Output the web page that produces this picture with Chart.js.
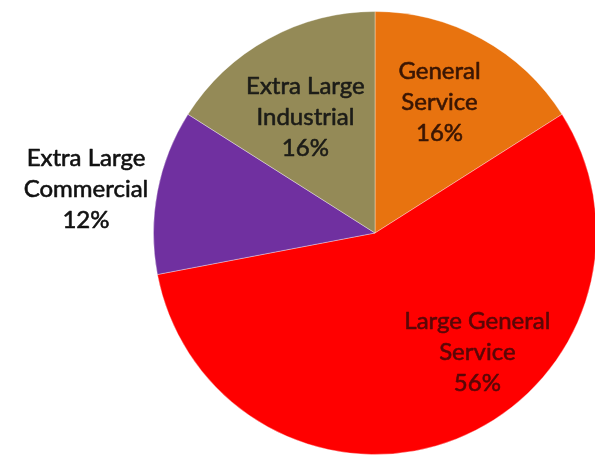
<!DOCTYPE html>
<html>
<head>
<meta charset="utf-8">
<script src="https://cdn.jsdelivr.net/npm/chart.js@4.4.0/dist/chart.umd.min.js"></script>
<style>
  html, body { margin: 0; padding: 0; background: #ffffff; overflow: hidden; }
  body { width: 595px; height: 455px; position: relative; }
  #pie { position: absolute; left: 0; top: 0; }
</style>
</head>
<body>
<canvas id="pie" width="620" height="470"></canvas>
<script>
// Customer classes, clockwise from 12 o'clock
const categories = ['General Service', 'Large General Service', 'Extra Large Commercial', 'Extra Large Industrial'];
const shares = [16, 56, 12, 16];
const labelLines = [
  ['General', 'Service'],
  ['Large General', 'Service'],
  ['Extra Large', 'Commercial'],
  ['Extra Large', 'Industrial']
];

const sliceColors = ['#E8730F', '#FF0000', '#7030A0', '#948A57'];
const textColors = ['#3a1604', '#5a0707', '#111111', '#1c1c18'];
// where each label sits: angle shift (deg) from the slice middle, distance as a share of the radius
const labelPlacement = [
  { shift: -2.6, dist: 0.66 },
  { shift: -19, dist: 0.71 },
  { shift: -2.1, dist: 1.32 },
  { shift: -2.2, dist: 0.61 }
];

const sliceLabels = {
  id: 'sliceLabels',
  afterDatasetsDraw(chart) {
    const ctx = chart.ctx;
    const arcs = chart.getDatasetMeta(0).data;
    const data = chart.data.datasets[0].data;
    const total = data.reduce((a, b) => a + b, 0);
    ctx.save();
    ctx.font = '24px Lato, "Liberation Sans", sans-serif';
    ctx.textAlign = 'center';
    ctx.textBaseline = 'middle';
    ctx.lineWidth = 0.6;
    ctx.lineJoin = 'round';
    arcs.forEach((arc, i) => {
      const p = arc.getProps(['x', 'y', 'startAngle', 'endAngle', 'outerRadius'], true);
      const mid = (p.startAngle + p.endAngle) / 2 + labelPlacement[i].shift * Math.PI / 180;
      const r = p.outerRadius * labelPlacement[i].dist;
      const cx = p.x + Math.cos(mid) * r;
      const cy = p.y + Math.sin(mid) * r;
      const lines = labelLines[i].concat([Math.round(data[i] / total * 100) + '%']);
      const lh = 31;
      ctx.fillStyle = textColors[i];
      ctx.strokeStyle = textColors[i];
      lines.forEach((t, k) => {
        const y = cy + (k - (lines.length - 1) / 2) * lh;
        ctx.fillText(t, cx, y);
        ctx.strokeText(t, cx, y);
      });
    });
    ctx.restore();
  }
};

new Chart(document.getElementById('pie'), {
  type: 'pie',
  data: {
    labels: categories,
    datasets: [{
      data: shares,
      backgroundColor: sliceColors,
      borderColor: 'rgba(255,255,255,0.35)',
      borderWidth: 1
    }]
  },
  options: {
    responsive: false,
    animation: false,
    devicePixelRatio: 1,
    layout: { padding: { left: 153, top: 11, right: 23, bottom: 15 } },
    plugins: {
      legend: { display: false },
      tooltip: { enabled: false }
    }
  },
  plugins: [sliceLabels]
});
</script>
</body>
</html>
